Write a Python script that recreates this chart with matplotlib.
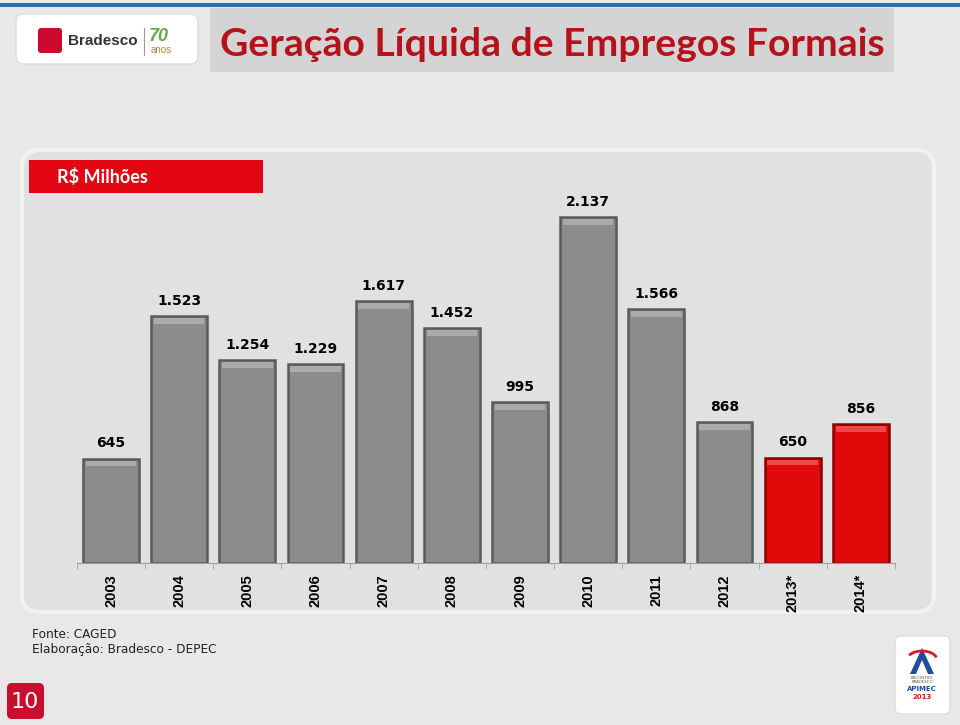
import matplotlib
matplotlib.use('Agg')
import matplotlib.pyplot as plt
from matplotlib.patches import Rectangle, FancyBboxPatch, Polygon, Arc

# dados (R$ milhões)
anos = ['2003', '2004', '2005', '2006', '2007', '2008', '2009', '2010', '2011', '2012', '2013*', '2014*']
valores = [645, 1523, 1254, 1229, 1617, 1452, 995, 2137, 1566, 868, 650, 856]
rotulos = ['645', '1.523', '1.254', '1.229', '1.617', '1.452', '995', '2.137', '1.566', '868', '650', '856']
projecao = [False] * 10 + [True, True]

plt.rcParams['hatch.color'] = '#d6d6d6'
plt.rcParams['hatch.linewidth'] = 0.6

fig = plt.figure(figsize=(9.6, 7.25), dpi=100, facecolor='#e6e6e6')

# fundo em coordenadas de pixel
bg = fig.add_axes([0, 0, 1, 1])
bg.set_xlim(0, 960)
bg.set_ylim(725, 0)
bg.axis('off')
bg.add_patch(Rectangle((0, 0), 960, 725, facecolor='#e8e8e8', edgecolor='none', hatch='//////'))
bg.add_patch(Rectangle((0, 3), 960, 4, facecolor='#2f6fa8', edgecolor='none'))

# logo Bradesco
bg.add_patch(FancyBboxPatch((16, 14), 182, 50, boxstyle='round,pad=0,rounding_size=8',
                            facecolor='white', edgecolor='#dddddd', lw=1))
bg.add_patch(FancyBboxPatch((38, 28), 24, 25, boxstyle='round,pad=0,rounding_size=3',
                            facecolor='#cc092f', edgecolor='none'))
bg.text(68, 41, 'Bradesco', fontsize=11, fontweight='bold', color='#333333',
        family='Liberation Sans', va='center', ha='left')
bg.plot([144, 144], [28, 55], color='#999999', lw=0.8)
bg.text(149, 36, '70', fontsize=13, fontweight='bold', style='italic', color='#6aa84f',
        family='Liberation Sans', va='center', ha='left')
bg.text(151, 50, 'anos', fontsize=7, color='#b08a3c', family='Liberation Sans', va='center', ha='left')

# faixa do título
bg.add_patch(Rectangle((210, 8), 684, 64, facecolor='#d4d4d4', edgecolor='none'))
bg.text(220, 44, 'Geração Líquida de Empregos Formais', fontsize=28.2, fontweight='bold',
        color='#b5121b', family='Lato', va='center', ha='left')

# painel do gráfico
bg.add_patch(FancyBboxPatch((22, 150), 912, 462, boxstyle='round,pad=0,rounding_size=18',
                            facecolor='#e1e1e1', edgecolor='#f2f2f2', lw=3))
bg.add_patch(Rectangle((29, 160), 234, 33, facecolor='#e30613', edgecolor='none'))
bg.text(57, 177, 'R$ Milhões', fontsize=13, fontweight='bold', color='white',
        family='Lato', va='center', ha='left')

# rodapé
bg.text(32, 635, 'Fonte: CAGED', fontsize=8.7, color='#222222', va='center', ha='left')
bg.text(32, 650, 'Elaboração: Bradesco - DEPEC', fontsize=8.7, color='#222222', va='center', ha='left')
bg.add_patch(FancyBboxPatch((7, 683), 37, 36, boxstyle='round,pad=0,rounding_size=5',
                            facecolor='#c8102e', edgecolor='none'))
bg.text(25, 702, '10', fontsize=16, color='white', va='center', ha='center')

# logo APIMEC
bg.add_patch(FancyBboxPatch((895, 636), 55, 78, boxstyle='round,pad=0,rounding_size=6',
                            facecolor='white', edgecolor='#dddddd', lw=1))
bg.add_patch(Polygon([[910, 674], [922, 648], [934, 674], [928, 674], [922, 660], [916, 674]],
                     closed=True, facecolor='#1f4e9c', edgecolor='none'))
bg.add_patch(Arc((922, 660), 30, 18, theta1=200, theta2=350, color='#d7192b', lw=2))
bg.text(922, 680, 'ENCONTRO\nBRADESCO', fontsize=2.8, color='#555555', ha='center', va='center',
        linespacing=1.2)
bg.text(922, 689, 'APIMEC', fontsize=5, fontweight='bold', color='#1f4e9c', ha='center', va='center')
bg.text(922, 697, '2013', fontsize=5, fontweight='bold', color='#d7192b', ha='center', va='center')

# gráfico de barras
ax = fig.add_axes([0.0802, 0.2234, 0.852, 0.5472])
ax.patch.set_alpha(0)
x = list(range(len(anos)))
cores = ['#e00a0a' if p else '#8c8c8c' for p in projecao]
bordas = ['#8a0000' if p else '#5a5a5a' for p in projecao]
brilho = ['#f04848' if p else '#ababab' for p in projecao]
ax.bar(x, valores, width=0.82, color=cores, edgecolor=bordas, linewidth=1.8)
# faixa clara no topo (efeito de relevo)
topo = 35
ax.bar(x, [topo] * len(x), bottom=[v - topo - 12 for v in valores], width=0.74,
       color=brilho, edgecolor='none')
for xi, v, r in zip(x, valores, rotulos):
    ax.annotate(r, (xi, v), xytext=(0, 6), textcoords='offset points', ha='center', va='bottom',
                fontsize=10, fontweight='bold', color='black')

ax.set_xlim(-0.5, len(anos) - 0.5)
ax.set_ylim(0, 2450)
for s in ['top', 'right', 'left']:
    ax.spines[s].set_visible(False)
ax.spines['bottom'].set_color('#a0a0a0')
ax.set_yticks([])
ax.set_xticks([i - 0.5 for i in range(len(anos) + 1)], minor=True)
ax.set_xticks(x)
ax.set_xticklabels(anos, rotation=90, fontsize=10.5, fontweight='bold', family='Liberation Sans')
ax.tick_params(axis='x', which='major', length=0, pad=8)
ax.tick_params(axis='x', which='minor', length=4, color='#a0a0a0')

fig.savefig('out.png', dpi=100, facecolor=fig.get_facecolor())
